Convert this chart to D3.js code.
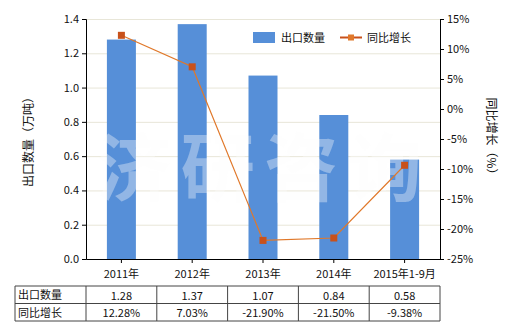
<!DOCTYPE html>
<html>
<head>
<meta charset="utf-8">
<script src="https://cdn.jsdelivr.net/npm/d3@7/dist/d3.min.js"></script>
<style>
body { margin: 0; background: #fff; }
text { font-family: "Noto Sans CJK SC", "DejaVu Sans", sans-serif; }
</style>
</head>
<body>
<div id="chart"></div>
<script>
var categories = ["2011年", "2012年", "2013年", "2014年", "2015年1-9月"];
var exportQty = [1.28, 1.37, 1.07, 0.84, 0.58];
var growth = [12.28, 7.03, -21.90, -21.50, -9.38];
var qtyLabels = ["1.28", "1.37", "1.07", "0.84", "0.58"];
var growthLabels = ["12.28%", "7.03%", "-21.90%", "-21.50%", "-9.38%"];
var leftTicks = [0, 0.2, 0.4, 0.6, 0.8, 1.0, 1.2, 1.4];
var rightTicks = [-25, -20, -15, -10, -5, 0, 5, 10, 15];

var width = 520, height = 330;
var plot = { left: 86, right: 440, top: 19, bottom: 259 };

var svg = d3.select("#chart")
    .append("svg")
    .attr("width", width)
    .attr("height", height);

var x = d3.scaleBand()
    .domain(categories)
    .range([plot.left, plot.right]);

var y = d3.scaleLinear()
    .domain([0, 1.4])
    .range([plot.bottom, plot.top]);

var y2 = d3.scaleLinear()
    .domain([-25, 15])
    .range([plot.bottom, plot.top]);

// gridlines
svg.append("g")
    .selectAll("line")
    .data(leftTicks.slice(1))
    .enter()
    .append("line")
    .attr("x1", plot.left)
    .attr("x2", plot.right)
    .attr("y1", function (d) { return y(d) + 0.5; })
    .attr("y2", function (d) { return y(d) + 0.5; })
    .style("stroke", "#e8e6d8")
    .style("stroke-width", 1);

// bars
var barW = 29;
svg.append("g")
    .selectAll("rect")
    .data(exportQty)
    .enter()
    .append("rect")
    .attr("x", function (d, i) { return x(categories[i]) + x.bandwidth() / 2 - barW / 2; })
    .attr("y", function (d) { return y(d); })
    .attr("width", barW)
    .attr("height", function (d) { return plot.bottom - y(d); })
    .style("fill", "#568fd8");

// watermark
svg.append("text")
    .attr("x", 97)
    .attr("y", 195)
    .attr("textLength", 325)
    .attr("lengthAdjust", "spacing")
    .style("font-size", "74px")
    .style("font-weight", "bold")
    .style("fill", "#fcfcfc")
    .style("fill-opacity", 0.36)
    .text("济研咨询");

// line
var line = d3.line()
    .x(function (d, i) { return x(categories[i]) + x.bandwidth() / 2; })
    .y(function (d) { return y2(d); });

svg.append("path")
    .datum(growth)
    .attr("d", line)
    .style("fill", "none")
    .style("stroke", "#e0782a")
    .style("stroke-width", 1.2);

svg.append("g")
    .selectAll("rect")
    .data(growth)
    .enter()
    .append("rect")
    .attr("x", function (d, i) { return x(categories[i]) + x.bandwidth() / 2 - 3.5; })
    .attr("y", function (d) { return y2(d) - 3.5; })
    .attr("width", 7)
    .attr("height", 7)
    .style("fill", "#c8511b");

// axes
var leftAxis = svg.append("g")
    .attr("transform", "translate(" + plot.left + ",0)")
    .call(d3.axisLeft(y).tickValues(leftTicks).tickFormat(d3.format(".1f")).tickSize(4));

var rightAxis = svg.append("g")
    .attr("transform", "translate(" + plot.right + ",0)")
    .call(d3.axisRight(y2).tickValues(rightTicks).tickFormat(function (d) { return d + "%"; }).tickSize(4));

var bottomAxis = svg.append("g")
    .attr("transform", "translate(0," + plot.bottom + ")")
    .call(d3.axisBottom(x).tickSize(4).tickSizeOuter(0));

[leftAxis, rightAxis, bottomAxis].forEach(function (a) {
    a.selectAll("path, line").style("stroke", "#000");
    a.selectAll("text").style("font-size", "11px").style("fill", "#111")
        .style("font-family", "\"Noto Sans CJK SC\", sans-serif");
});
bottomAxis.selectAll("text").attr("dy", "1.1em");

// axis titles
svg.append("text")
    .attr("transform", "translate(33," + ((plot.top + plot.bottom) / 2) + ") rotate(-90)")
    .attr("text-anchor", "middle")
    .style("font-size", "12px")
    .style("fill", "#111")
    .text("出口数量（万吨）");

svg.append("text")
    .attr("transform", "translate(487," + ((plot.top + plot.bottom) / 2) + ") rotate(90)")
    .attr("text-anchor", "middle")
    .style("font-size", "12px")
    .style("fill", "#111")
    .text("同比增长（%）");

// legend
svg.append("rect")
    .attr("x", 253).attr("y", 32)
    .attr("width", 22).attr("height", 11)
    .style("fill", "#568fd8");
svg.append("text")
    .attr("x", 281).attr("y", 42)
    .style("font-size", "11px")
    .style("fill", "#111")
    .text("出口数量");
svg.append("line")
    .attr("x1", 340).attr("x2", 362)
    .attr("y1", 37.5).attr("y2", 37.5)
    .style("stroke", "#c8511b")
    .style("stroke-width", 2);
svg.append("rect")
    .attr("x", 348).attr("y", 34.5)
    .attr("width", 6).attr("height", 6)
    .style("fill", "#e0782a");
svg.append("text")
    .attr("x", 367).attr("y", 42)
    .style("font-size", "11px")
    .style("fill", "#111")
    .text("同比增长");

// data table
var tableTop = 286, rowH = 17.5, tableLeft = 15;
var rows = [
    { name: "出口数量", values: qtyLabels },
    { name: "同比增长", values: growthLabels }
];
var table = svg.append("g");
var colEdges = [tableLeft].concat(categories.map(function (c) { return x(c); })).concat([plot.right]);

[0, 1, 2].forEach(function (r) {
    table.append("line")
        .attr("x1", tableLeft).attr("x2", plot.right)
        .attr("y1", tableTop + r * rowH).attr("y2", tableTop + r * rowH)
        .style("stroke", "#444").style("stroke-width", 1);
});
colEdges.forEach(function (cx) {
    table.append("line")
        .attr("x1", cx).attr("x2", cx)
        .attr("y1", tableTop).attr("y2", tableTop + 2 * rowH)
        .style("stroke", "#444").style("stroke-width", 1);
});

rows.forEach(function (row, r) {
    table.append("text")
        .attr("x", tableLeft + 3)
        .attr("y", tableTop + r * rowH + 13)
        .style("font-size", "11px")
        .style("fill", "#111")
        .text(row.name);
    row.values.forEach(function (v, i) {
        table.append("text")
            .attr("x", x(categories[i]) + x.bandwidth() / 2)
            .attr("y", tableTop + r * rowH + 13.5)
            .attr("text-anchor", "middle")
            .style("font-size", "11px")
            .style("fill", "#111")
            .text(v);
    });
});
</script>
</body>
</html>
